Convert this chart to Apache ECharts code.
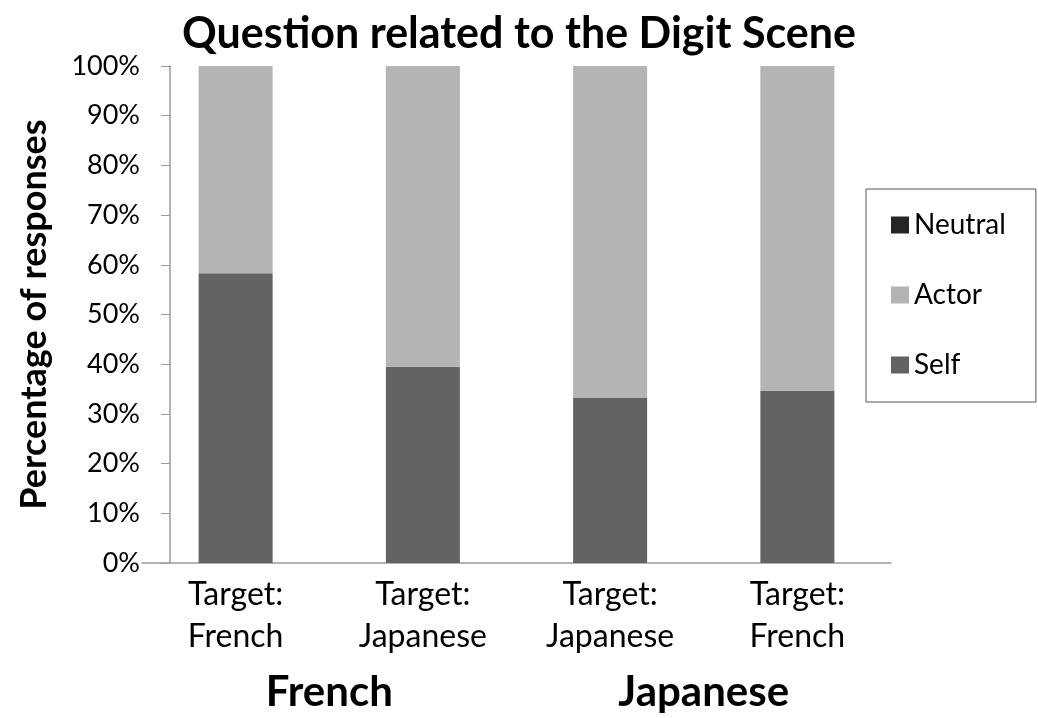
<!DOCTYPE html>
<html>
<head>
<meta charset="utf-8">
<script src="https://cdn.jsdelivr.net/npm/echarts@6/dist/echarts.min.js"></script>
<style>html,body{margin:0;padding:0;background:#fff}#c{width:1038px;height:718px}</style>
</head>
<body>
<div id="c"></div>
<script>
var categories = ["Target:\nFrench", "Target:\nJapanese", "Target:\nJapanese", "Target:\nFrench"];
var groups = ["French", "Japanese"];
var selfValues = [58.3, 39.5, 33.2, 34.6];
var actorValues = [41.7, 60.5, 66.8, 65.4];
var neutralValues = [0, 0, 0, 0];
var yTicks = [0, 10, 20, 30, 40, 50, 60, 70, 80, 90, 100];

var FONT = "Lato";
var chart = echarts.init(document.getElementById('c'));
chart.setOption({
  animation: false,
  backgroundColor: '#ffffff',
  title: {
    text: 'Question related to the Digit Scene',
    left: 'center', top: 8,
    textStyle: {fontFamily: FONT, fontSize: 43, fontWeight: 'bold', color: '#000'}
  },
  legend: {
    orient: 'vertical',
    left: 866, top: 189,
    data: ['Neutral', 'Actor', 'Self'],
    selectedMode: false,
    icon: 'rect',
    itemWidth: 18, itemHeight: 17,
    itemGap: 42,
    borderColor: '#555', borderWidth: 1,
    padding: [22, 30, 23, 25],
    textStyle: {fontFamily: FONT, fontSize: 28, lineHeight: 27, color: '#000'}
  },
  grid: {left: 142, right: 147, top: 66, bottom: 155, containLabel: false},
  xAxis: [{
    type: 'category',
    data: categories,
    axisLine: {lineStyle: {color: '#9a9a9a', width: 1.5}},
    axisTick: {length: 5, lineStyle: {color: '#c8c8c8'}},
    axisLabel: {fontFamily: FONT, fontSize: 32, lineHeight: 42, color: '#000', margin: 11, interval: 0}
  }, {
    type: 'category',
    data: groups,
    position: 'bottom',
    offset: 108,
    axisLine: {show: false},
    axisTick: {show: false},
    axisLabel: {fontFamily: FONT, fontSize: 42, fontWeight: 'bold', color: '#000', margin: 0, interval: 0}
  }],
  yAxis: {
    type: 'value',
    min: 0, max: 100, interval: 10,
    offset: -28,
    name: 'Percentage of responses',
    nameLocation: 'middle',
    nameRotate: 90,
    nameGap: 118,
    nameTextStyle: {fontFamily: FONT, fontSize: 36, fontWeight: 'bold', color: '#000'},
    axisLine: {show: true, lineStyle: {color: '#9a9a9a', width: 1.5}},
    axisTick: {show: true, length: 9, lineStyle: {color: '#9a9a9a'}},
    splitLine: {show: false},
    axisLabel: {fontFamily: FONT, fontSize: 27, color: '#000', margin: 30,
      formatter: function (v) { return yTicks.indexOf(v) >= 0 ? v + '%' : ''; }}
  },
  series: [
    {name: 'Self', type: 'bar', stack: 't', data: selfValues, barWidth: 74,
     itemStyle: {color: '#636363'}},
    {name: 'Actor', type: 'bar', stack: 't', data: actorValues, barWidth: 74,
     itemStyle: {color: '#b4b4b4'}},
    {name: 'Neutral', type: 'bar', stack: 't', data: neutralValues, barWidth: 74,
     itemStyle: {color: '#262626'}}
  ]
});
</script>
</body>
</html>
